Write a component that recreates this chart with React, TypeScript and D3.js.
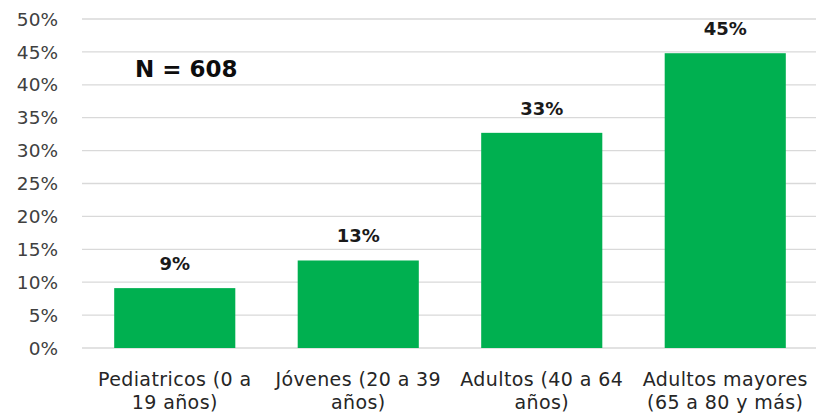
import React from "react";
import * as d3 from "d3";

const categories: string[][] = [
  ["Pediatricos (0 a", "19 años)"],
  ["Jóvenes (20 a 39", "años)"],
  ["Adultos (40 a 64", "años)"],
  ["Adultos mayores", "(65 a 80 y más)"],
];
const values: number[] = [9.1, 13.3, 32.7, 44.8];
const valueLabels: string[] = ["9%", "13%", "33%", "45%"];
const yTicks: number[] = [0, 5, 10, 15, 20, 25, 30, 35, 40, 45, 50];
const annotation = "N = 608";

const W = 818;
const H = 416;
const FONT = "'DejaVu Sans', Verdana, sans-serif";

export default function App() {
  const x = d3
    .scaleBand<number>()
    .domain(values.map((_, i) => i))
    .range([83, 817])
    .paddingInner(0.34)
    .paddingOuter(0.17);
  const y = d3.scaleLinear().domain([0, 50]).range([348, 19]);

  return (
    <svg
      width={W}
      height={H}
      style={{ position: "absolute", left: 0, top: 0, background: "#fff" }}
      fontFamily={FONT}
    >
      {yTicks.map((t) => (
        <g key={t}>
          <line x1={82} x2={816} y1={y(t)} y2={y(t)} stroke="#d9d9d9" strokeWidth={1.3} />
          <text x={58} y={y(t)} dy="0.36em" textAnchor="end" fontSize={18.5} fill="#404040">
            {t}%
          </text>
        </g>
      ))}
      {values.map((v, i) => (
        <g key={i}>
          <rect x={x(i)} y={y(v)} width={x.bandwidth()} height={y(0) - y(v)} fill="#00B050" />
          <text
            x={(x(i) as number) + x.bandwidth() / 2}
            y={y(v) - 18}
            textAnchor="middle"
            fontSize={18}
            fontWeight="bold"
            fill="#1a1a1a"
          >
            {valueLabels[i]}
          </text>
          {categories[i].map((line, j) => (
            <text
              key={j}
              x={(x(i) as number) + x.bandwidth() / 2}
              y={386 + j * 23}
              textAnchor="middle"
              fontSize={19}
              letterSpacing={0.4}
              fill="#262626"
            >
              {line}
            </text>
          ))}
        </g>
      ))}
      <text x={135} y={77} fontSize={23} fontWeight="bold" fill="#0d0d0d">
        {annotation}
      </text>
    </svg>
  );
}
